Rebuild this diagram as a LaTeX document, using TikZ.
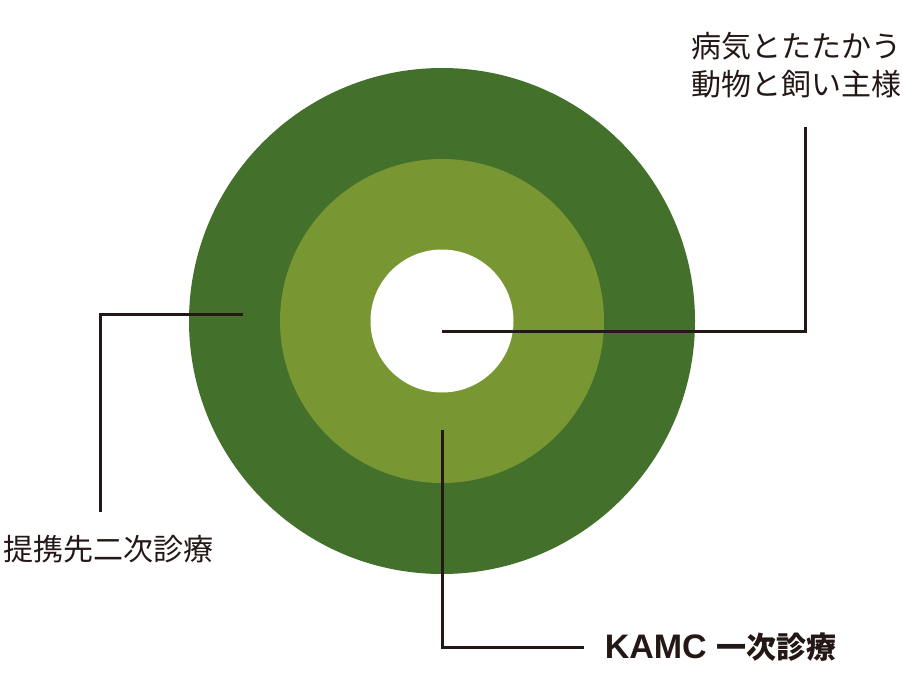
\documentclass[tikz,border=0pt]{standalone}
\usepackage{fontspec}
\setmainfont{Noto Sans CJK JP}
\newfontfamily\latinbold{Liberation Sans}[BoldFont={Liberation Sans Bold}]
\usetikzlibrary{positioning,calc}
\definecolor{darkring}{HTML}{43702A}
\definecolor{lightring}{HTML}{789732}
\definecolor{leader}{HTML}{231815}
\newcommand{\lbl}{\fontsize{30}{38}\selectfont}

\begin{document}
\begin{tikzpicture}[x=1pt,y=-1pt,
	ring/.style={circle,inner sep=0pt,draw=none},
	label text/.style={inner sep=0pt,text=leader,font=\lbl},
	lead/.style={draw=leader,line width=3pt}]
\useasboundingbox (0,0) rectangle (903,696);
\node[ring,fill=darkring,minimum size=506pt]  (outer)  at (442,321) {};
\node[ring,fill=lightring,minimum size=324pt] (middle) at (442,321) {};
\node[ring,fill=white,minimum size=143pt]     (inner)  at (442,321) {};
%
\node[label text,align=left]  (owner)   at (796.5,65) {病気とたたかう\\動物と飼い主様};
\node[label text]             (second)  at (109,549)  {提携先二次診療};
\node[label text,font=\lbl\bfseries] (primary) at (720.5,647)
	{{\latinbold\fontsize{34}{38}\selectfont KAMC }一次診療};
%
\coordinate (inner pt)  at (442,331);
\coordinate (owner pt)  at (805.5,127);
\coordinate (outer pt)  at (242.5,314);
\coordinate (second pt) at (100,512);
\coordinate (middle pt) at (442,430);
\coordinate (primary pt) at (584,647);
%
\draw[lead] (inner pt)  -| (owner pt);
\draw[lead] (outer pt)  -| (second pt);
\draw[lead] (middle pt) |- (primary pt);
\end{tikzpicture}
\end{document}
